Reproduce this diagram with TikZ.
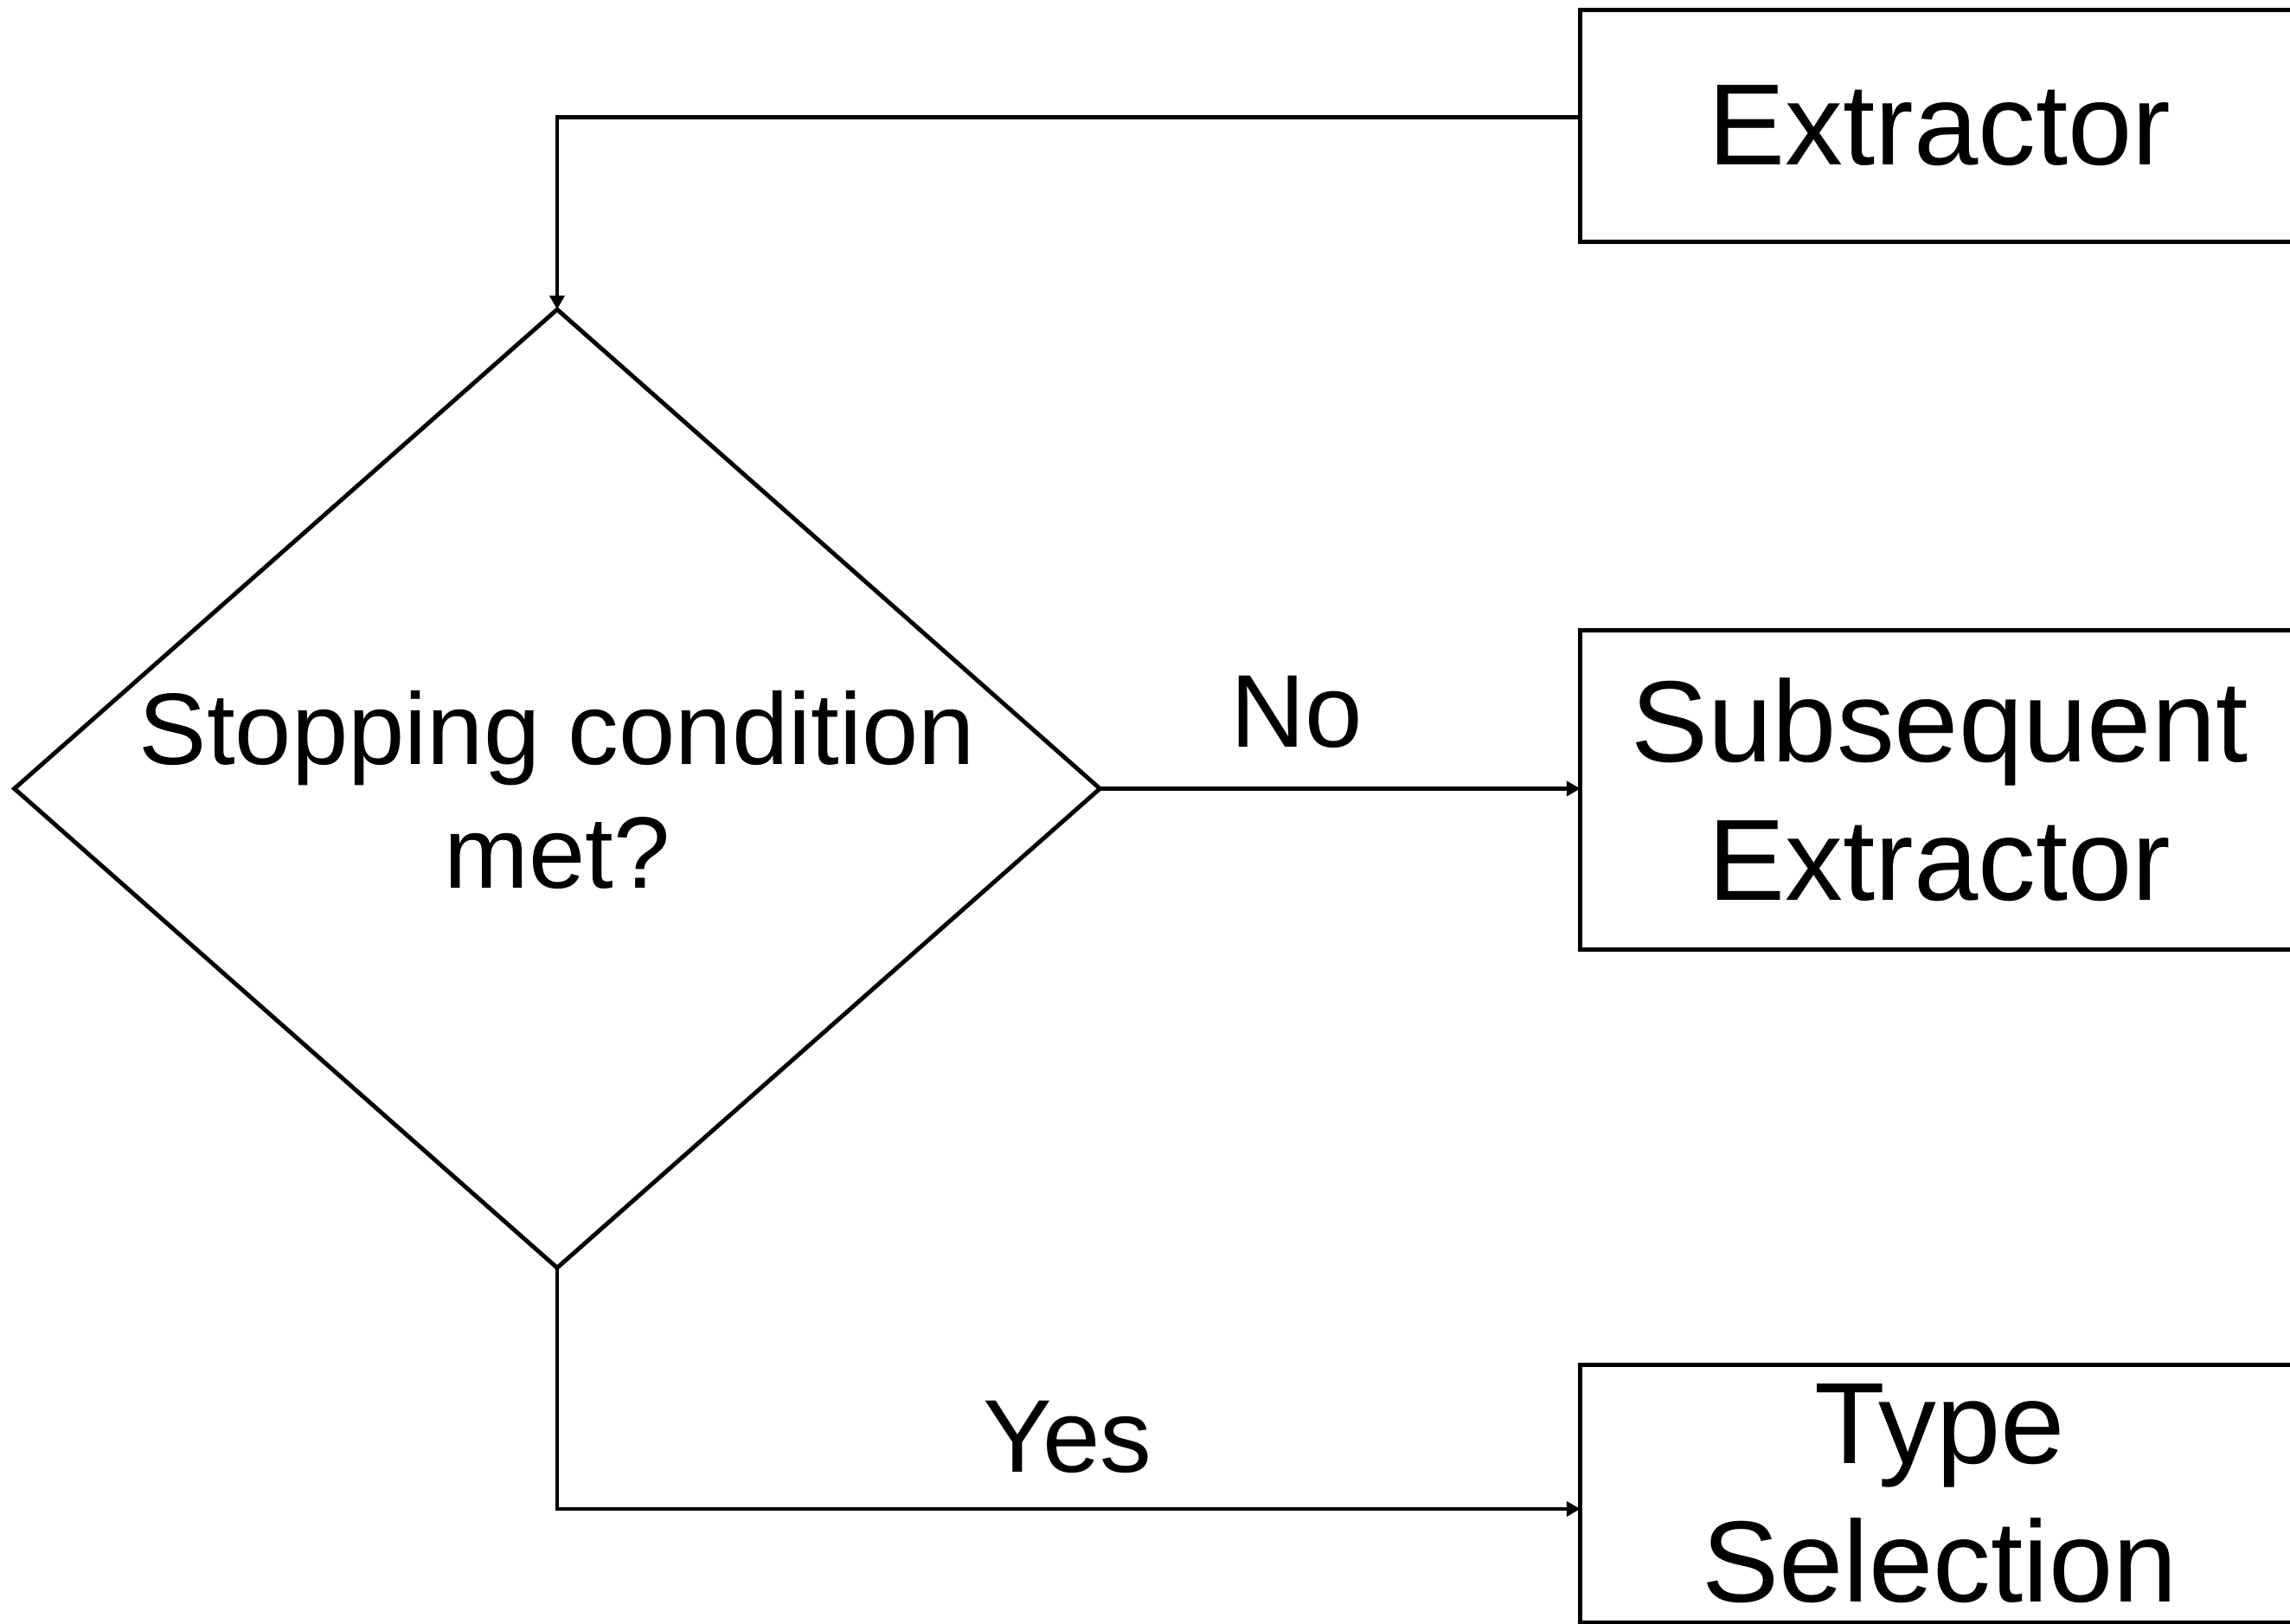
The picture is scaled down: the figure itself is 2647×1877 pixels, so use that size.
\documentclass[tikz,border=0pt]{standalone}
\usepackage{fontspec}
\setmainfont{Liberation Sans}
\usetikzlibrary{shapes.geometric,arrows.meta}
\begin{document}
\begin{tikzpicture}[x=0.01cm,y=-0.01cm,
  lw/.style={line width=1.4pt},
  boxnode/.style={draw,lw,rectangle,inner sep=0,outer sep=0,minimum width=8.3cm,align=center,
     font=\fontsize{38}{45.5}\selectfont},
  dnode/.style={draw,lw,diamond,inner sep=0,outer sep=0,minimum width=12.54cm,minimum height=11.07cm},
  dtext/.style={align=center,font=\fontsize{33.4}{40.5}\selectfont},
  lbl/.style={anchor=base,inner sep=0,font=\fontsize{34}{40}\selectfont},
  arr/.style={lw,-{Triangle[length=0.16cm,width=0.17cm]}}]
\useasboundingbox (0,0) rectangle (2647,1877);
\node[boxnode,minimum height=2.67cm] (ext) at (2242,145.5) {Extractor};
\node[boxnode,minimum height=3.68cm] (sub) at (2242,913) {Subsequent\\Extractor};
\node[boxnode,minimum height=2.97cm] (typ) at (2242,1726.5) {Type\\Selection};
\node[dnode] (d) at (644,911.5) {};
\node[dtext] (dt) at (644,913) {Stopping condition\\met?};
\draw[arr] ([yshift=0.1cm]ext.west) -| (d.north);
\draw[arr] (d.east) -- (d.east -| sub.west);
\draw[arr] (d.south) |- ([yshift=-0.175cm]typ.west);
\node[lbl] (no) at (1499,864) {No};
\node[lbl] (yes) at (1234,1702) {Yes};
\end{tikzpicture}
\end{document}
